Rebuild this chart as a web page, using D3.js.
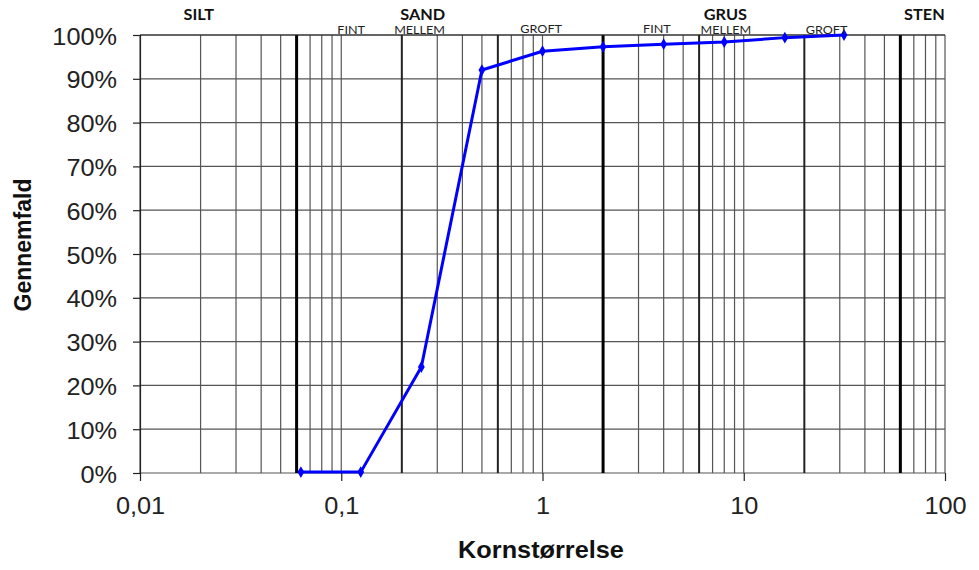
<!DOCTYPE html>
<html><head><meta charset="utf-8">
<script src="https://cdn.jsdelivr.net/npm/d3@7"></script>
<style>body{margin:0;background:#fff}svg{display:block}</style>
</head><body>
<svg id="c" width="979" height="570"></svg>
<script>
// ---- data ----
const sieveSizes = [0.063, 0.125, 0.25, 0.5, 1, 2, 4, 8, 16, 31.5];
const passing = [0.2, 0.2, 24.2, 92, 96.3, 97.3, 97.9, 98.4, 99.4, 100];
const xTickValues = [0.01, 0.1, 1, 10, 100];
const xTickLabels = ["0,01", "0,1", "1", "10", "100"];
const yTickValues = [0, 10, 20, 30, 40, 50, 60, 70, 80, 90, 100];
const thickLines = [0.06, 2, 60];
const mediumLines = [0.2, 0.6, 6, 20];
const mainLabels = [{t:"SILT", v:0.0196}, {t:"SAND", v:0.254}, {t:"GRUS", v:8.1}, {t:"STEN", v:79}];
const subLabels = [{t:"FINT", v:0.112, dy:0}, {t:"MELLEM", v:0.245, dy:0}, {t:"GROFT", v:0.985, dy:-1},
                   {t:"FINT", v:3.7, dy:-1}, {t:"MELLEM", v:8.15, dy:0}, {t:"GROFT", v:25.8, dy:0}];

const svg = d3.select("#c");
const x = d3.scaleLog().domain([0.01, 100]).range([140, 945]);
const y = d3.scaleLinear().domain([0, 100]).range([473, 35]);
const SX = 1.1;

// vertical grid values
const gridVals = [];
for (let e = -2; e < 2; e++) for (let m = 1; m <= 9; m++) gridVals.push(+(m * Math.pow(10, e)).toPrecision(3));
gridVals.push(100);
const isIn = (arr, d) => arr.some(t => Math.abs(t - d) < 1e-9);
const g = svg.append("g");
g.selectAll("line.h").data(yTickValues).join("line")
  .attr("x1", x(0.01)).attr("x2", x(100)).attr("y1", d => y(d)).attr("y2", d => y(d))
  .attr("stroke", "#555").attr("stroke-width", 1.2);
g.selectAll("line.v").data(gridVals).join("line")
  .attr("x1", d => x(d)).attr("x2", d => x(d)).attr("y1", y(0)).attr("y2", y(100))
  .attr("stroke", d => isIn(thickLines, d) ? "#000" : isIn(mediumLines, d) ? "#222" : "#555")
  .attr("stroke-width", d => isIn(thickLines, d) ? 3 : isIn(mediumLines, d) ? 2 : 1.2);

// axes
const yAxis = d3.axisLeft(y).tickValues(yTickValues).tickSize(7).tickFormat(d => d + "%");
const ya = svg.append("g").attr("transform", `translate(${x(0.01)},0)`).call(yAxis);
ya.select(".domain").attr("stroke", "#222").attr("stroke-width", 1.2);
ya.selectAll(".tick line").attr("stroke", "#222").attr("stroke-width", 1.2);
ya.selectAll(".tick text").attr("x", 0).attr("dy", null).attr("y", 0)
  .attr("font-family", "Liberation Sans, Arial").attr("font-size", 23).attr("fill", "#222")
  .attr("text-anchor", "end").attr("dominant-baseline", "central")
  .attr("transform", `translate(-23,1) scale(${SX},1)`);

const xAxis = d3.axisBottom(x).tickValues(xTickValues).tickSize(8)
  .tickFormat((d, i) => xTickLabels[i]);
const xa = svg.append("g").attr("transform", `translate(0,${y(0)})`).call(xAxis);
xa.select(".domain").remove();
xa.selectAll(".tick line").attr("stroke", "#222").attr("stroke-width", 1.2);
xa.selectAll(".tick text").attr("y", 0).attr("dy", null)
  .attr("font-family", "Liberation Sans, Arial").attr("font-size", 23).attr("fill", "#222")
  .attr("transform", `translate(0,41) scale(${SX},1)`);

svg.append("line").attr("x1", x(0.01)).attr("x2", x(100)).attr("y1", y(100)).attr("y2", y(100))
  .attr("stroke", "#222").attr("stroke-width", 1.2);

// series
const pts = sieveSizes.map((s, i) => [s, passing[i]]);
svg.append("path").datum(pts)
  .attr("d", d3.line().x(d => x(d[0])).y(d => y(d[1])))
  .attr("fill", "none").attr("stroke", "#0000ff").attr("stroke-width", 3).attr("stroke-linejoin", "round");
svg.selectAll("path.m").data(pts).join("path")
  .attr("d", d3.symbol(d3.symbolDiamond, 40))
  .attr("transform", d => `translate(${x(d[0])},${y(d[1])})`)
  .attr("fill", "#0000ff");

// titles
svg.append("text").attr("transform", `translate(541,558) scale(${SX},1)`)
  .attr("text-anchor", "middle").attr("font-family", "Liberation Sans, Arial").attr("font-weight", "bold")
  .attr("font-size", 23).attr("fill", "#111").text("Kornstørrelse");
svg.append("text").attr("transform", `translate(31,245) rotate(-90)`)
  .attr("text-anchor", "middle").attr("font-family", "Liberation Sans, Arial").attr("font-weight", "bold")
  .attr("font-size", 23).attr("fill", "#111").text("Gennemfald");

// soil class labels
svg.selectAll("text.main").data(mainLabels).join("text")
  .attr("transform", d => `translate(${x(d.v)},20) scale(1.05,1)`)
  .attr("text-anchor", "middle").attr("font-family", "Lato, Open Sans, sans-serif").attr("font-weight", "bold")
  .attr("font-size", 15.5).attr("fill", "#111").text(d => d.t);
svg.selectAll("text.sub").data(subLabels).join("text")
  .attr("transform", d => `translate(${x(d.v)},${34 + d.dy}) scale(1.05,1)`)
  .attr("text-anchor", "middle").attr("font-family", "Lato, Open Sans, sans-serif")
  .attr("font-size", 12).attr("fill", "#222").text(d => d.t);
</script>
</body></html>
